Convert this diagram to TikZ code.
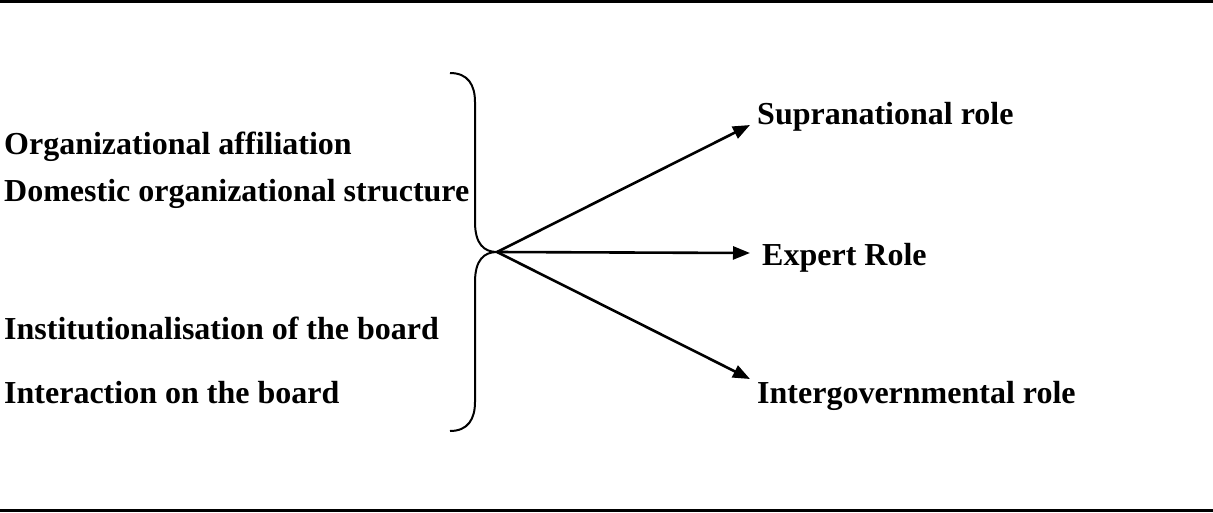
\documentclass[tikz,border=0pt]{standalone}
\usepackage{fontspec}
\setmainfont{Liberation Serif}
\usetikzlibrary{arrows.meta}
\begin{document}
\begin{tikzpicture}[x=1pt,y=-1pt,
                    item/.style = {anchor=base west,
                                inner sep=0pt,
                                font=\fontsize{32}{36}\selectfont\bfseries},
                    link/.style = {line width=2.6pt,
                                -{Triangle[length=17pt,width=13pt]}}]
                    \useasboundingbox (0,0) rectangle (1213,512);
                    % Frame lines
                    \draw [line width=3pt] (0,1.5) -- (1213,1.5);
                    \draw [line width=3pt] (0,510) -- (1213,510);
                    % Factors
                    \node[item] (aff) at (4,154) {Organizational affiliation};
                    \node[item] (dom) at (4,201) {Domestic organizational structure};
                    \node[item] (ins) at (4,339) {Institutionalisation of the board};
                    \node[item] (int) at (4,403) {Interaction on the board};
                    % Roles
                    \node[item] (sup) at (757,124) {Supranational role};
                    \node[item] (exp) at (762,265) {Expert Role};
                    \node[item] (gov) at (757,403) {Intergovernmental role};
                    % Brace
                    \coordinate (hub) at (497,252);
                    \draw [line width=2pt] (450,73) .. controls (468,73) and (475,85) .. (475,102)
                        -- (475,222) .. controls (475,244) and (484,252) .. (hub)
                        .. controls (484,252) and (475,260) .. (475,282)
                        -- (475,402) .. controls (475,419) and (468,431) .. (450,431);
                    % Arrows
                    \coordinate (supEnd) at (750,125);
                    \coordinate (expEnd) at (750,253);
                    \coordinate (govEnd) at (750,379);
                    \draw[link] (hub) -- (supEnd);
                    \draw[link] (hub) -- (expEnd);
                    \draw[link] (hub) -- (govEnd);
                \end{tikzpicture}
\end{document}
